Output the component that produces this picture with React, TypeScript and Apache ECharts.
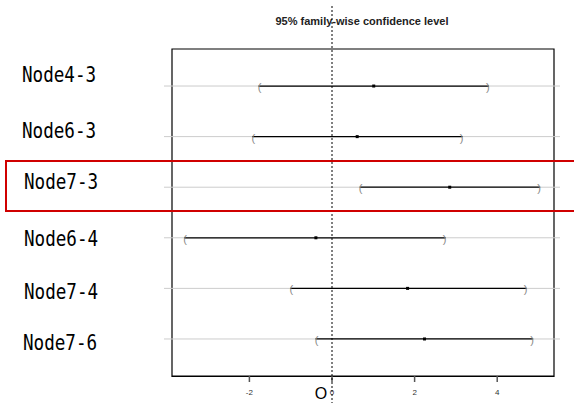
import React, { useEffect, useRef } from "react";
import * as echarts from "echarts";

// ---- data ----
const categories = ["Node4-3", "Node6-3", "Node7-3", "Node6-4", "Node7-4", "Node7-6"];
const diff = [1.01, 0.61, 2.85, -0.39, 1.83, 2.24];
const lwr = [-1.78, -1.93, 0.67, -3.58, -1.01, -0.4];
const upr = [3.8, 3.16, 5.04, 2.75, 4.71, 4.87];
const xTicks = [-2, 0, 2, 4];
const titleText = "95% family-wise confidence level";
const zeroMark = "O";

// ---- layout (not data) ----
const LABEL_X = [22, 22, 24, 24, 24, 23];
const LABEL_Y = [75, 131, 182, 239, 292, 343];

export default function App() {
  const ref = useRef<HTMLDivElement>(null);
  useEffect(() => {
    if (!ref.current) return;
    const chart = echarts.init(ref.current, null, { renderer: "svg" });
    const rows = categories.map((_, i) => [lwr[i], diff[i], upr[i], i]);
    const option: any = {
      animation: false,
      backgroundColor: "#ffffff",
      grid: {
        left: 172,
        right: 20,
        top: 49,
        bottom: 27,
        show: true,
        borderColor: "#000",
        borderWidth: 1.2,
        backgroundColor: "transparent",
      },
      xAxis: {
        type: "value",
        min: -3.874,
        max: 5.375,
        splitLine: { show: false },
        axisLine: { show: true, onZero: false, lineStyle: { color: "#000", width: 1.2 } },
        axisTick: { show: false },
        axisLabel: {
          customValues: xTicks,
          fontSize: 8,
          margin: 12,
          color: "#333",
          fontFamily: "Liberation Sans, Arial, sans-serif",
        },
      },
      yAxis: {
        type: "value",
        min: -0.732,
        max: 5.732,
        inverse: true,
        show: false,
        splitLine: { show: false },
      },
      series: [
        {
          type: "custom",
          clip: false,
          data: rows,
          renderItem: (params: any, api: any) => {
            const lo = api.value(0);
            const mid = api.value(1);
            const hi = api.value(2);
            const row = api.value(3);
            const pl = api.coord([lo, row]);
            const pm = api.coord([mid, row]);
            const ph = api.coord([hi, row]);
            const cs = params.coordSys;
            const y = pl[1];
            const bracket = (t: string, x: number) => ({
              type: "text",
              x,
              y: y + 1,
              style: {
                text: t,
                fill: "#888",
                fontSize: 11,
                fontFamily: "Liberation Sans, Arial, sans-serif",
                align: "center",
                verticalAlign: "middle",
                textAlign: "center",
                textVerticalAlign: "middle",
              },
            });
            return {
              type: "group",
              children: [
                {
                  type: "line",
                  shape: { x1: cs.x - 8, y1: y, x2: cs.x + cs.width + 6, y2: y },
                  style: { stroke: "#cccccc", lineWidth: 1 },
                },
                {
                  type: "line",
                  shape: { x1: pl[0], y1: y, x2: ph[0], y2: y },
                  style: { stroke: "#000", lineWidth: 1.3 },
                },
                {
                  type: "rect",
                  shape: { x: pm[0] - 1.5, y: y - 1.5, width: 3, height: 3 },
                  style: { fill: "#000" },
                },
                bracket("(", pl[0] + 1),
                bracket(")", ph[0] - 1),
              ],
            };
          },
          z: 3,
        },
        {
          type: "custom",
          clip: false,
          data: [[0, 0]],
          renderItem: (params: any, api: any) => {
            const p = api.coord([api.value(0), api.value(1)]);
            const cs = params.coordSys;
            const yb = cs.y + cs.height;
            const ticks = xTicks.map((t) => {
              const tx = api.coord([t, 0])[0];
              return {
                type: "rect",
                shape: { x: tx - 0.75, y: yb, width: 1.5, height: 6 },
                style: { fill: "#555" },
              };
            });
            return {
              type: "group",
              children: [
                ...ticks,
                {
                  type: "line",
                  shape: { x1: p[0], y1: cs.y - 43, x2: p[0], y2: yb + 30 },
                  style: { stroke: "#000", lineWidth: 1, lineDash: [2, 2] },
                },
              ],
            };
          },
          z: 5,
        },
      ],
      graphic: [
        {
          type: "text",
          x: 362,
          y: 21,
          style: {
            text: titleText,
            fontSize: 11,
            fontWeight: "bold",
            fontFamily: "Liberation Sans, Arial, sans-serif",
            fill: "#222",
            align: "center",
            verticalAlign: "middle",
            textAlign: "center",
            textVerticalAlign: "middle",
          },
          z: 1,
        },
        ...categories.map((c, i) => ({
          type: "text",
          x: LABEL_X[i],
          y: LABEL_Y[i],
          scaleX: 0.8,
          style: {
            text: c,
            fontSize: 22,
            fontFamily: "DejaVu Sans Mono, monospace",
            fill: "#000",
            align: "left",
            verticalAlign: "middle",
            textAlign: "left",
            textVerticalAlign: "middle",
          },
        })),
        {
          type: "text",
          x: 321,
          y: 393,
          style: {
            text: zeroMark,
            fontSize: 16,
            fontFamily: "Liberation Sans, Arial, sans-serif",
            fill: "#000",
            align: "center",
            verticalAlign: "middle",
            textAlign: "center",
            textVerticalAlign: "middle",
          },
        },
        {
          type: "rect",
          shape: { x: 6, y: 161, width: 580, height: 50 },
          style: { fill: "none", stroke: "#d00000", lineWidth: 2 },
          z: 10,
        },
      ],
    };
    chart.setOption(option);
    return () => chart.dispose();
  }, []);
  return (
    <div
      ref={ref}
      style={{ position: "fixed", left: 0, top: 0, width: 574, height: 403 }}
    />
  );
}
